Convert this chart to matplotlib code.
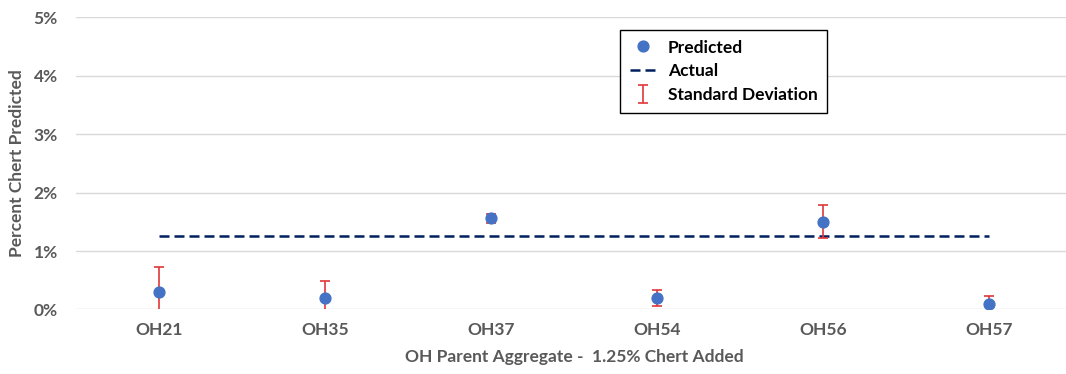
import matplotlib
matplotlib.use("Agg")
import matplotlib.pyplot as plt
from matplotlib.ticker import FuncFormatter

# Aggregate samples and their predicted chert content (%)
aggregates = ["OH21", "OH35", "OH37", "OH54", "OH56", "OH57"]
predicted = [0.30, 0.20, 1.56, 0.20, 1.50, 0.10]
std_dev = [0.42, 0.28, 0.08, 0.14, 0.28, 0.13]
actual_added = 1.25

plt.rcParams["font.family"] = ["Lato", "DejaVu Sans"]
gray = "#595959"
fs = 12.5

fig = plt.figure(figsize=(10.66, 3.74), dpi=100)
ax = fig.add_axes([76 / 1066, 0.1725, 996 / 1066, 0.7812])

x = list(range(len(aggregates)))

# actual chert added, spanning the samples
ax.plot([x[0], x[-1]], [actual_added, actual_added], color="#002060",
        linestyle=(0, (4, 2)), linewidth=1.8, label="Actual", zorder=2)

# standard deviation bars
ax.errorbar(x, predicted, yerr=std_dev, fmt="none", ecolor="#E0373A",
            elinewidth=1.2, capsize=3.8, capthick=1.2,
            label="Standard Deviation", zorder=3)

# predicted values
ax.plot(x, predicted, linestyle="none", marker="o", markersize=7.8,
        color="#4472C4", label="Predicted", zorder=4)

ax.set_xlim(-0.5, len(aggregates) - 0.5)
ax.set_ylim(0, 5)
ax.set_yticks([0, 1, 2, 3, 4, 5])
ax.yaxis.set_major_formatter(FuncFormatter(lambda v, p: f"{v:.0f}%"))
ax.set_xticks(x)
ax.set_xticklabels(aggregates)

ax.grid(axis="y", color="#D9D9D9", linewidth=1.0)
ax.set_axisbelow(True)
for s in ax.spines.values():
    s.set_visible(False)
ax.tick_params(axis="both", length=0, labelsize=fs, labelcolor=gray)
ax.tick_params(axis="y", pad=13)
ax.tick_params(axis="x", pad=9)
for lbl in ax.get_xticklabels() + ax.get_yticklabels():
    lbl.set_fontweight("bold")

ax.set_ylabel("Percent Chert Predicted", fontsize=fs, fontweight="bold",
              color=gray, labelpad=6)
ax.set_xlabel("OH Parent Aggregate -  1.25% Chert Added", fontsize=fs,
              fontweight="bold", color=gray, labelpad=8)

handles, labels = ax.get_legend_handles_labels()
order = [labels.index("Predicted"), labels.index("Actual"),
         labels.index("Standard Deviation")]
leg = ax.legend([handles[i] for i in order], [labels[i] for i in order],
                loc="upper left", bbox_to_anchor=(620 / 1066, 1 - 30 / 374),
                bbox_transform=fig.transFigure, borderaxespad=0,
                frameon=True, fancybox=False, edgecolor="black", framealpha=1,
                prop={"weight": "bold", "size": fs}, handlelength=1.6,
                handletextpad=0.6, labelspacing=0.45, borderpad=0.55)
leg.get_frame().set_linewidth(1.0)

fig.savefig("out.png", dpi=100)
